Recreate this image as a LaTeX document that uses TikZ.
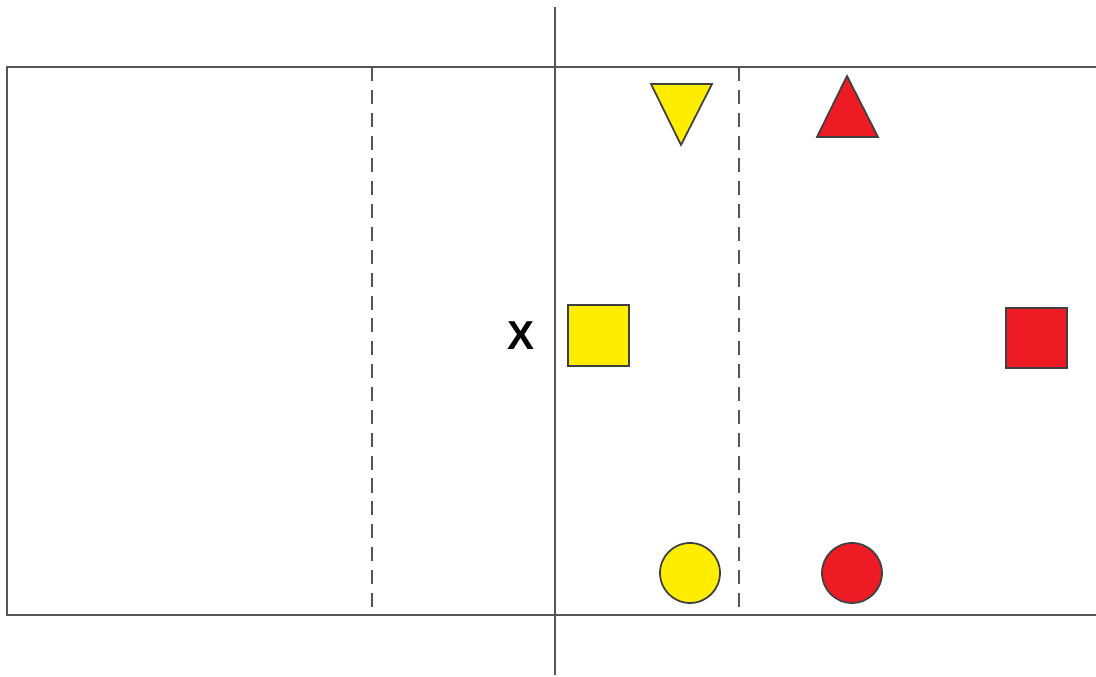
\documentclass[tikz,border=0pt]{standalone}
\usepackage{fontspec}
\setmainfont{Liberation Sans}
\definecolor{lineg}{HTML}{555555}
\definecolor{yel}{HTML}{FFED00}
\definecolor{rd}{HTML}{ED1C24}
\begin{document}
\begin{tikzpicture}[x=0.01cm,y=-0.01cm,
  court/.style={draw=lineg,line width=0.6pt},
  divider/.style={draw=lineg,line width=0.6pt,dash pattern=on 4pt off 2.5pt},
  piece/.style={draw=black!75,line width=0.5pt,line join=miter}]
\useasboundingbox (0,0) rectangle (1096,677);
\fill[white] (0,0) rectangle (1096,677);
% court
\draw[court] (1096,67) -- (7,67) -- (7,615) -- (1096,615);
\draw[divider] (372,67) -- (372,615);
\draw[divider] (739,67) -- (739,615);
\draw[court] (555,7) -- (555,675);
% yellow pieces
\filldraw[piece,fill=yel] (651,84) -- (712,84) -- (681,145) -- cycle;
\filldraw[piece,fill=yel] (568,305) rectangle (629,366);
\filldraw[piece,fill=yel] (690,573) circle (30);
% red pieces
\filldraw[piece,fill=rd] (847,76) -- (878,137) -- (817,137) -- cycle;
\filldraw[piece,fill=rd] (1006,308) rectangle (1067,368);
\filldraw[piece,fill=rd] (852,573) circle (30);
% label
\node[font=\bfseries\fontsize{11.5}{13}\selectfont,inner sep=0pt] (xlbl) at (521,336) {X};
\end{tikzpicture}
\end{document}
